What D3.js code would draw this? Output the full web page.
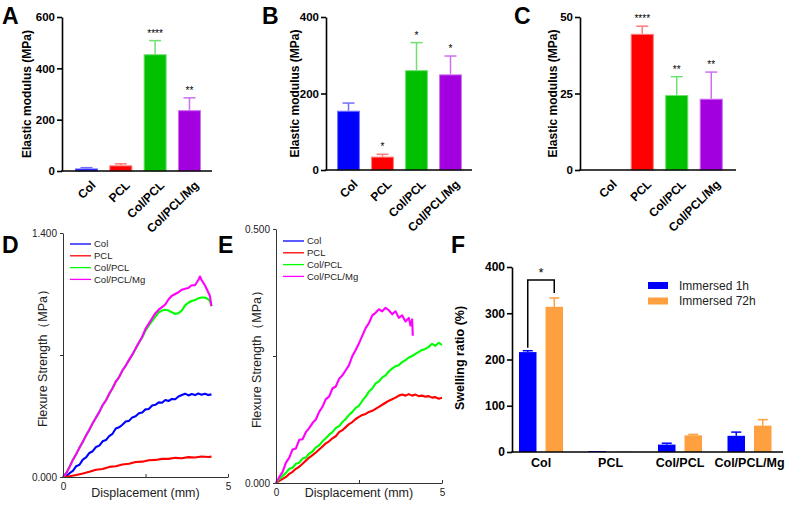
<!DOCTYPE html>
<html><head><meta charset="utf-8">
<script src="https://cdn.jsdelivr.net/npm/d3@7"></script>
<style>body{margin:0;background:#fff} svg{display:block} text{font-family:"Liberation Sans",Arial,sans-serif}</style>
</head><body>
<svg id="c" width="789" height="505"></svg>
<script>
// ---------- DATA ----------
const barCats = ["Col", "PCL", "Col/PCL", "Col/PCL/Mg"];
const barColors = ["#0000ff", "#ff0000", "#00c000", "#a300e0"];
const barEdge = ["#7070ff", "#ff7a7a", "#70e070", "#cc70f0"];

const aMean = [10, 22, 455, 237];
const aErr = [3, 6, 53, 48];
const aStars = ["", "", "****", "**"];
const aTicks = [0, 200, 400, 600];

const bMean = [155, 35, 261, 250];
const bErr = [20, 6, 72, 48];
const bStars = ["", "*", "*", "*"];
const bTicks = [0, 200, 400];

const cMean = [0, 44.5, 24.5, 23.3];
const cErr = [0, 2.5, 6, 8.7];
const cStars = ["", "****", "**", "**"];
const cTicks = [0, 25, 50];

const curveNames = ["Col", "PCL", "Col/PCL", "Col/PCL/Mg"];
const curveColors = ["#0000ff", "#ff0000", "#00ff00", "#ff00ff"];

const dCol = [[0,0],[0.1,0.005],[0.2,0.022],[0.3,0.035],[0.4,0.062],[0.5,0.07],[0.6,0.1],[0.7,0.112],[0.8,0.138],[0.9,0.148],[1.0,0.172],[1.1,0.18],[1.2,0.205],[1.3,0.212],[1.4,0.235],[1.5,0.248],[1.6,0.278],[1.7,0.285],[1.8,0.3],[1.9,0.318],[2.0,0.322],[2.1,0.342],[2.2,0.348],[2.3,0.366],[2.4,0.37],[2.5,0.388],[2.6,0.39],[2.7,0.41],[2.8,0.414],[2.9,0.428],[3.0,0.426],[3.1,0.442],[3.2,0.436],[3.3,0.448],[3.4,0.446],[3.5,0.462],[3.6,0.47],[3.7,0.478],[3.8,0.468],[3.9,0.476],[4.0,0.47],[4.1,0.479],[4.2,0.472],[4.3,0.478],[4.4,0.47],[4.5,0.474]];
const dPCL = [[0,0],[0.2,0.004],[0.4,0.012],[0.6,0.02],[0.8,0.03],[1.0,0.042],[1.2,0.046],[1.4,0.058],[1.6,0.062],[1.8,0.072],[2.0,0.076],[2.2,0.086],[2.4,0.088],[2.6,0.096],[2.8,0.098],[3.0,0.104],[3.2,0.104],[3.4,0.11],[3.6,0.108],[3.8,0.114],[4.0,0.112],[4.2,0.118],[4.4,0.115],[4.5,0.117]];
const dColPCL = [[0,0],[0.1,0.025],[0.2,0.06],[0.3,0.1],[0.4,0.13],[0.5,0.17],[0.6,0.2],[0.7,0.24],[0.8,0.27],[0.9,0.31],[1.0,0.34],[1.1,0.375],[1.2,0.41],[1.3,0.44],[1.4,0.475],[1.5,0.51],[1.6,0.545],[1.7,0.575],[1.8,0.61],[1.9,0.64],[2.0,0.67],[2.1,0.7],[2.2,0.735],[2.3,0.77],[2.4,0.8],[2.5,0.84],[2.6,0.87],[2.7,0.895],[2.8,0.92],[2.9,0.945],[3.0,0.955],[3.1,0.96],[3.2,0.955],[3.3,0.945],[3.4,0.935],[3.5,0.94],[3.6,0.955],[3.7,0.985],[3.8,1.0],[3.9,1.01],[4.0,1.015],[4.1,1.025],[4.2,1.03],[4.3,1.03],[4.4,1.02],[4.45,1.01],[4.5,0.98]];
const dColPCLMg = [[0,0],[0.1,0.022],[0.2,0.058],[0.3,0.098],[0.4,0.132],[0.5,0.168],[0.6,0.202],[0.7,0.238],[0.8,0.272],[0.9,0.308],[1.0,0.342],[1.1,0.372],[1.2,0.412],[1.3,0.438],[1.4,0.478],[1.5,0.508],[1.6,0.548],[1.7,0.572],[1.8,0.612],[1.9,0.638],[2.0,0.672],[2.1,0.702],[2.2,0.738],[2.3,0.772],[2.4,0.805],[2.5,0.85],[2.6,0.88],[2.7,0.91],[2.8,0.94],[2.9,0.96],[3.0,0.975],[3.1,0.99],[3.2,1.02],[3.3,1.04],[3.4,1.05],[3.5,1.06],[3.6,1.075],[3.7,1.08],[3.8,1.085],[3.9,1.1],[4.0,1.1],[4.1,1.13],[4.15,1.15],[4.2,1.13],[4.3,1.1],[4.35,1.08],[4.4,1.06],[4.45,1.04],[4.5,0.98]];

const ePCL = [[0,0],[0.1,0.004],[0.2,0.008],[0.3,0.012],[0.4,0.018],[0.5,0.022],[0.6,0.028],[0.7,0.032],[0.8,0.038],[0.9,0.044],[1.0,0.05],[1.1,0.055],[1.2,0.06],[1.3,0.066],[1.4,0.072],[1.5,0.078],[1.6,0.082],[1.7,0.088],[1.8,0.092],[1.9,0.1],[2.0,0.104],[2.1,0.11],[2.2,0.116],[2.3,0.12],[2.4,0.126],[2.5,0.13],[2.6,0.134],[2.7,0.136],[2.8,0.14],[2.9,0.142],[3.0,0.146],[3.1,0.15],[3.2,0.154],[3.3,0.158],[3.4,0.162],[3.5,0.165],[3.6,0.168],[3.7,0.172],[3.8,0.174],[3.9,0.172],[4.0,0.175],[4.1,0.172],[4.2,0.174],[4.3,0.171],[4.4,0.172],[4.5,0.17],[4.6,0.171],[4.7,0.168],[4.8,0.169],[4.9,0.166],[5.0,0.168]];
const eColPCL = [[0,0],[0.1,0.008],[0.2,0.014],[0.3,0.02],[0.4,0.028],[0.5,0.03],[0.6,0.038],[0.7,0.04],[0.8,0.048],[0.9,0.05],[1.0,0.058],[1.1,0.062],[1.2,0.07],[1.3,0.074],[1.4,0.082],[1.5,0.088],[1.6,0.095],[1.7,0.1],[1.8,0.108],[1.9,0.112],[2.0,0.12],[2.1,0.126],[2.2,0.134],[2.3,0.14],[2.4,0.148],[2.5,0.152],[2.6,0.162],[2.7,0.17],[2.8,0.18],[2.9,0.186],[3.0,0.196],[3.1,0.2],[3.2,0.208],[3.3,0.212],[3.4,0.22],[3.5,0.225],[3.6,0.23],[3.7,0.232],[3.8,0.238],[3.9,0.242],[4.0,0.247],[4.1,0.25],[4.2,0.254],[4.3,0.258],[4.4,0.262],[4.5,0.264],[4.6,0.268],[4.7,0.274],[4.8,0.27],[4.9,0.276],[5.0,0.272]];
const eColPCLMg = [[0,0],[0.1,0.012],[0.2,0.022],[0.3,0.04],[0.4,0.05],[0.5,0.066],[0.6,0.068],[0.7,0.085],[0.8,0.086],[0.9,0.1],[1.0,0.108],[1.1,0.118],[1.2,0.125],[1.3,0.14],[1.4,0.15],[1.5,0.165],[1.6,0.17],[1.7,0.186],[1.8,0.19],[1.9,0.205],[2.0,0.212],[2.1,0.222],[2.2,0.232],[2.3,0.25],[2.4,0.262],[2.5,0.275],[2.6,0.29],[2.7,0.305],[2.8,0.315],[2.9,0.33],[3.0,0.335],[3.1,0.342],[3.2,0.338],[3.3,0.345],[3.4,0.34],[3.5,0.332],[3.6,0.338],[3.7,0.325],[3.8,0.33],[3.9,0.318],[4.0,0.325],[4.05,0.31],[4.1,0.322],[4.12,0.29]];

const fCats = ["Col", "PCL", "Col/PCL", "Col/PCL/Mg"];
const fSeries = ["Immersed 1h", "Immersed 72h"];
const fColors = ["#0000ff", "#ffa040"];
const fH1 = [216, 2, 16, 35];
const fH1Err = [3, 0, 3, 8];
const fH72 = [314, 1, 36, 57];
const fH72Err = [19, 0, 2, 13];
const fTicks = [0, 100, 200, 300, 400];

// ---------- DRAW ----------
const svg = d3.select("#c");

function letter(t, x, y) {
  svg.append("text").attr("x", x).attr("y", y).text(t)
    .style("font-family", "'Liberation Sans',Arial,sans-serif")
    .style("font-weight", "bold").style("font-size", "23px");
}

function barPanel(o) {
  const g = svg.append("g");
  const y = d3.scaleLinear().domain([0, o.max]).range([o.yBot, o.yTop]);
  const x = d3.scaleBand().domain(barCats).range(o.band).paddingInner(0.33).paddingOuter(0.165);
  barCats.forEach((c, i) => {
    const bx = x(c), bw = x.bandwidth(), cx = bx + bw / 2;
    if (o.mean[i] > 0) {
      g.append("rect").attr("x", bx + 0.5).attr("y", y(o.mean[i]) + 0.5)
        .attr("width", bw - 1).attr("height", Math.max(0, y(0) - y(o.mean[i]) - 0.5))
        .attr("fill", barColors[i]).attr("stroke", barEdge[i]).attr("stroke-width", 1);
    }
    if (o.err[i] > 0) {
      const top = y(o.mean[i] + o.err[i]);
      g.append("line").attr("x1", cx).attr("x2", cx).attr("y1", y(o.mean[i])).attr("y2", top)
        .attr("stroke", barEdge[i]).attr("stroke-width", 1.5);
      g.append("line").attr("x1", cx - 6).attr("x2", cx + 6).attr("y1", top).attr("y2", top)
        .attr("stroke", barEdge[i]).attr("stroke-width", 1.5);
    }
    if (o.stars[i]) {
      g.append("text").attr("x", cx).attr("y", y(o.mean[i] + o.err[i]) - 4)
        .attr("text-anchor", "middle").style("font-size", "10px").text(o.stars[i]);
    }
    g.append("text").attr("transform", `translate(${cx + 4},${o.yBot + 9}) rotate(-45)`)
      .attr("text-anchor", "end").attr("dy", "0.7em")
      .style("font-size", "12px").style("font-weight", "bold").text(c);
  });
  const ay = g.append("g").attr("transform", `translate(${o.x0},0)`)
    .call(d3.axisLeft(y).tickValues(o.ticks).tickSize(5).tickSizeOuter(0).tickPadding(2));
  ay.selectAll("path,line").attr("stroke", "#000").attr("stroke-width", 1.6);
  ay.selectAll("text").style("font-size", "11.5px").style("font-weight", "bold")
    .style("font-family", "'Liberation Sans',Arial,sans-serif");
  g.append("line").attr("x1", o.x0 - 0.8).attr("x2", o.xEnd).attr("y1", o.yBot).attr("y2", o.yBot)
    .attr("stroke", "#000").attr("stroke-width", 1.6);
  g.append("text").attr("transform", `translate(${o.labX},${(o.yTop + o.yBot) / 2}) rotate(-90)`)
    .attr("text-anchor", "middle").attr("dy", "0.35em")
    .style("font-size", "12px").style("font-weight", "bold").text("Elastic modulus (MPa)");
}

barPanel({x0: 62, xEnd: 212, yTop: 17, yBot: 171, max: 600, ticks: aTicks, mean: aMean, err: aErr, stars: aStars, band: [69.35, 206.6], labX: 27});
barPanel({x0: 326, xEnd: 472, yTop: 17, yBot: 170, max: 400, ticks: bTicks, mean: bMean, err: bErr, stars: bStars, band: [331.5, 467.5], labX: 295});
barPanel({x0: 580, xEnd: 736, yTop: 17, yBot: 170, max: 50, ticks: cTicks, mean: cMean, err: cErr, stars: cStars, band: [590.5, 728.5], labX: 553});

letter("A", 2, 24);
letter("B", 262, 24);
letter("C", 514, 24);

function curvePanel(o) {
  const g = svg.append("g");
  const x = d3.scaleLinear().domain([0, 5]).range([o.x0, o.x1]);
  const y = d3.scaleLinear().domain([0, o.max]).range([o.y0, o.y1]);
  const line = d3.line().x(d => x(d[0])).y(d => y(d[1]));
  o.series.forEach((s, i) => {
    if (!s) return;
    g.append("path").datum(s).attr("d", line).attr("fill", "none")
      .attr("stroke", curveColors[i]).attr("stroke-width", 2.1).attr("stroke-linejoin", "round");
  });
  const ax = g.append("g").attr("transform", `translate(0,${o.y0})`)
    .call(d3.axisBottom(x).tickValues([0, 2.5, 5]).tickSize(-3).tickSizeOuter(0).tickPadding(6)
      .tickFormat(d => d === 2.5 ? "" : d3.format("d")(d)));
  const ay = g.append("g").attr("transform", `translate(${o.x0},0)`)
    .call(d3.axisLeft(y).tickValues([0, o.max / 2, o.max]).tickSize(3).tickSizeOuter(0).tickPadding(3)
      .tickFormat(d => d === o.max / 2 ? "" : d3.format(".3f")(d)));
  [ax, ay].forEach(a => {
    a.selectAll("path,line").attr("stroke", "#333").attr("stroke-width", 1);
    a.selectAll("text").style("font-size", "10px").style("fill", "#222")
      .style("font-family", "'Liberation Sans',Arial,sans-serif");
  });
  g.append("text").attr("x", (o.x0 + o.x1) / 2).attr("y", 497).attr("text-anchor", "middle")
    .style("font-size", "12.5px").style("fill", "#222").text("Displacement (mm)");
  g.append("text").attr("transform", `translate(${o.labX},${(o.y0 + o.y1) / 2}) rotate(-90)`)
    .attr("text-anchor", "middle").attr("dy", "0.35em")
    .style("font-size", "12.5px").style("fill", "#222").text("Flexure Strength（MPa）");
  curveNames.forEach((n, i) => {
    const ly = o.legY + i * 11.8;
    g.append("line").attr("x1", o.legX).attr("x2", o.legX + 21).attr("y1", ly).attr("y2", ly)
      .attr("stroke", curveColors[i]).attr("stroke-width", 1.3);
    g.append("text").attr("x", o.legX + 24).attr("y", ly).attr("dy", "0.35em")
      .style("font-size", "9.5px").style("fill", "#222").text(n);
  });
}

curvePanel({x0: 63, x1: 228, y0: 477, y1: 233, max: 1.4, series: [dCol, dPCL, dColPCL, dColPCLMg], labX: 43, legX: 70, legY: 244});
curvePanel({x0: 276, x1: 442, y0: 483, y1: 229, max: 0.5, series: [null, ePCL, eColPCL, eColPCLMg], labX: 257, legX: 283, legY: 241});

letter("D", 2, 253);
letter("E", 218, 253);
letter("F", 451, 253);

// Panel F
(function () {
  const g = svg.append("g");
  const y = d3.scaleLinear().domain([0, 400]).range([452, 267]);
  const x = d3.scaleBand().domain(fCats).range([506.3, 784.3]);
  const xs = d3.scaleBand().domain(fSeries).range([12.7, 56.7]).paddingInner(0.34);
  const vals = [fH1, fH72], errs = [fH1Err, fH72Err];
  fCats.forEach((c, i) => {
    fSeries.forEach((s, j) => {
      const bx = x(c) + xs(s), bw = xs.bandwidth(), cx = bx + bw / 2, v = vals[j][i], e = errs[j][i];
      g.append("rect").attr("x", bx).attr("y", y(v)).attr("width", bw).attr("height", y(0) - y(v))
        .attr("fill", fColors[j]);
      if (e > 0) {
        g.append("line").attr("x1", cx).attr("x2", cx).attr("y1", y(v)).attr("y2", y(v + e))
          .attr("stroke", fColors[j]).attr("stroke-width", 1.5);
        g.append("line").attr("x1", cx - 5).attr("x2", cx + 5).attr("y1", y(v + e)).attr("y2", y(v + e))
          .attr("stroke", fColors[j]).attr("stroke-width", 1.5);
      }
    });
  });
  const ay = g.append("g").attr("transform", "translate(512,0)")
    .call(d3.axisLeft(y).tickValues(fTicks).tickSize(5).tickSizeOuter(0).tickPadding(2));
  ay.selectAll("path,line").attr("stroke", "#000").attr("stroke-width", 1.6);
  ay.selectAll("text").style("font-size", "12px").style("font-weight", "bold")
    .style("font-family", "'Liberation Sans',Arial,sans-serif");
  g.append("line").attr("x1", 511.2).attr("x2", 783).attr("y1", 452).attr("y2", 452)
    .attr("stroke", "#000").attr("stroke-width", 1.6);
  fCats.forEach(c => {
    g.append("text").attr("x", x(c) + x.bandwidth() / 2).attr("y", 467).attr("text-anchor", "middle")
      .style("font-size", "12.5px").style("font-weight", "bold").text(c);
  });
  g.append("text").attr("transform", "translate(460,358) rotate(-90)").attr("text-anchor", "middle")
    .attr("dy", "0.35em").style("font-size", "12.5px").style("font-weight", "bold").text("Swelling ratio (%)");
  // significance bracket between the two Col bars
  const c0 = x("Col");
  const x1c = c0 + xs(fSeries[0]) + xs.bandwidth() / 2, x2c = c0 + xs(fSeries[1]) + xs.bandwidth() / 2;
  const bracketY = y(fH72[0] + fH72Err[0]) - 18;
  g.append("path").attr("d", `M${x1c},${y(fH1[0] + fH1Err[0]) - 3}V${bracketY}H${x2c}V${y(fH72[0] + fH72Err[0]) - 5}`)
    .attr("fill", "none").attr("stroke", "#000").attr("stroke-width", 1.5);
  g.append("text").attr("x", (x1c + x2c) / 2).attr("y", bracketY - 3).attr("text-anchor", "middle")
    .style("font-size", "13px").text("*");
  fSeries.forEach((s, j) => {
    const ly = 282 + j * 15.5;
    g.append("rect").attr("x", 648).attr("y", ly).attr("width", 20).attr("height", 7).attr("fill", fColors[j]);
    g.append("text").attr("x", 679).attr("y", ly + 3.5).attr("dy", "0.35em")
      .style("font-size", "12px").style("fill", "#222").text(s);
  });
})();
</script>
</body></html>
